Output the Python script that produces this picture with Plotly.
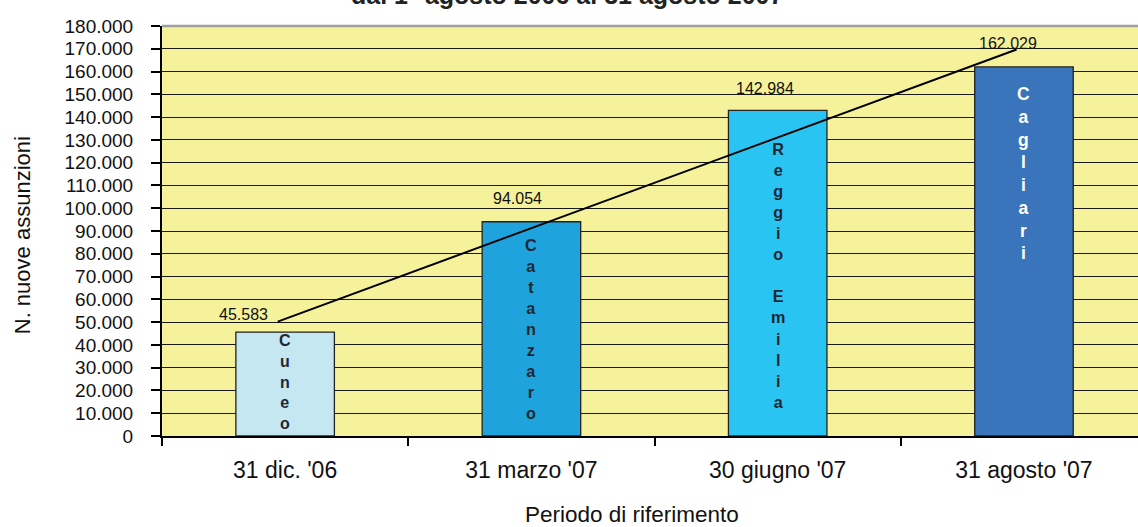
import numpy as np
import plotly.graph_objects as go

categories = ["31 dic. '06", "31 marzo '07", "30 giugno '07", "31 agosto '07"]
values = [45583, 94054, 142984, 162029]
cities = ["Cuneo", "Catanzaro", "Reggio Emilia", "Cagliari"]
y_ticks = list(range(0, 180001, 10000))

bar_colors = ["#C4E7F1", "#1EA3DC", "#29C4F2", "#3A74BA"]
letter_colors = ["#1E2733", "#1E2733", "#1E2733", "#FFFFFF"]
letter_center_frac = [0.52, 0.50, 0.494, 0.71]
letter_size = [16, 16.2, 16.2, 17.5]
label_xshift = [-42, -14, -13, -16]
label_yshift = [18, 23, 22, 23]

REG = "Liberation Sans, Arial, sans-serif"

W, H = 1138, 527
L, T, B = 162, 25.5, 436  # plot area pixel bounds

x = np.arange(len(values))
fig = go.Figure()
fig.add_trace(go.Bar(
    x=x, y=values, width=0.4,
    marker=dict(color=bar_colors, line=dict(color="#222222", width=1.3)),
    hoverinfo="skip",
))

# linear trend line (Excel-style) computed from data
slope, intercept = np.polyfit(x, values, 1)
tx = np.array([x[0] - 0.03, x[-1] - 0.03])
fig.add_trace(go.Scatter(
    x=tx, y=slope * tx + intercept, mode="lines",
    line=dict(color="black", width=2), hoverinfo="skip",
))


def px_to_paper_x(px):
    return (px - L) / (W - L)


def px_to_paper_y(py):
    return (B - py) / (B - T)


ann = []
for i, v in enumerate(values):
    ann.append(dict(
        x=x[i], y=v, xref="x", yref="y", text=f"{v:,}".replace(",", "."),
        showarrow=False, xshift=label_xshift[i], yshift=label_yshift[i],
        font=dict(family=REG, size=16, color="#111111"),
    ))
    letters = [c if c != " " else "\u00a0" for c in cities[i]]
    ann.append(dict(
        x=x[i], y=v * letter_center_frac[i], xref="x", yref="y",
        text="<b>" + "<br>".join(letters) + "</b>", showarrow=False,
        yanchor="middle",
        font=dict(family=REG, size=letter_size[i], color=letter_colors[i]),
    ))

ann.append(dict(
    x=px_to_paper_x(22), y=px_to_paper_y(235), xref="paper", yref="paper",
    xanchor="center", yanchor="middle",
    text="N. nuove assunzioni", showarrow=False, textangle=-90,
    font=dict(family=REG, size=22, color="#111111"),
))
ann.append(dict(
    x=px_to_paper_x(632), y=px_to_paper_y(515), xref="paper", yref="paper",
    xanchor="center", yanchor="middle",
    text="Periodo di riferimento", showarrow=False,
    font=dict(family=REG, size=22.5, color="#111111"),
))
ann.append(dict(
    x=px_to_paper_x(567), y=px_to_paper_y(10), xref="paper", yref="paper",
    xanchor="center", yanchor="bottom",
    text="<b>dal 1° agosto 2006 al 31 agosto 2007</b>",
    showarrow=False, font=dict(family=REG, size=25, color="#222222"),
))

fig.update_layout(
    width=W, height=H,
    margin=dict(l=L, r=0, t=T, b=H - B),
    paper_bgcolor="white", plot_bgcolor="#F6F19B",
    separators=",.",
    showlegend=False,
    annotations=ann,
)

fig.update_xaxes(
    range=[-0.5, 3.463], tickvals=list(x), ticktext=categories,
    ticks="", showgrid=False, zeroline=False,
    showline=True, linecolor="black", linewidth=1.5,
    tickfont=dict(family=REG, size=23, color="#111111"),
    ticklabelstandoff=13,
    minor=dict(tick0=-0.5, dtick=1, ticks="outside", ticklen=8,
               tickcolor="black", tickwidth=1.5, showgrid=False),
)
fig.update_yaxes(
    range=[0, 180000], tickvals=y_ticks, tickformat=",d",
    showgrid=True, gridcolor="#1A1A1A", gridwidth=1.2, zeroline=False,
    showline=True, linecolor="black", linewidth=2,
    ticks="outside", ticklen=9, tickcolor="black", tickwidth=1.5,
    tickfont=dict(family=REG, size=19, color="#111111"),
    ticklabelstandoff=14,
)
fig.add_shape(type="line", xref="paper", yref="paper", x0=0, x1=1, y0=1, y1=1,
              line=dict(color="#A0A0A0", width=2.5), layer="above")

fig.write_html(
    "out.html",
    config={"displayModeBar": False},
    post_script="document.body.style.margin='0';document.body.style.overflow='hidden';",
)
